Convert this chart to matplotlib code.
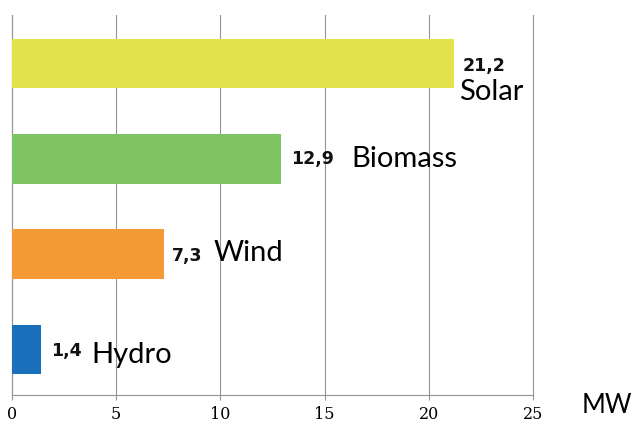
import matplotlib
matplotlib.use("Agg")
import matplotlib.pyplot as plt

# data (top to bottom in the picture)
sources = ["Solar", "Biomass", "Wind", "Hydro"]
capacity_mw = [21.2, 12.9, 7.3, 1.4]
value_labels = ["21,2", "12,9", "7,3", "1,4"]
bar_colors = ["#e3e34b", "#7fc463", "#f39a35", "#1a6fba"]
x_ticks = [0, 5, 10, 15, 20, 25]

# label offsets in pixels from the bar end (value label, name label)
val_off = [(9, -7.5), (10, -5), (8, -7), (10, -6.5)]
name_off = [(5, -36.5), (71, -8), (49, -7), (50, -13.5)]

DPI = 100
fig = plt.figure(figsize=(6.34, 4.23), dpi=DPI)
ax = fig.add_axes([12 / 634, 1 - 395 / 423, (533 - 12) / 634, (395 - 15) / 423])

n = len(sources)
ypos = [n - 1 - i for i in range(n)]
ax.barh(ypos, capacity_mw, height=0.52, color=bar_colors, zorder=3)

grid_col = "#959595"
ax.set_xlim(0, 25)
ax.set_ylim(-0.48, 3.51)
ax.set_xticks(x_ticks)
ax.set_xticklabels([str(t) for t in x_ticks], family="DejaVu Serif", fontsize=11.5)
ax.set_yticks([])
ax.xaxis.grid(True, color=grid_col, linewidth=0.8, zorder=0)
for gl in ax.get_xgridlines():
    gl.set_clip_on(False)
ax.tick_params(axis="x", length=3.6, width=0.8, color=grid_col, pad=4.5)
for s in ["top", "right"]:
    ax.spines[s].set_visible(False)
for s in ["left", "bottom"]:
    ax.spines[s].set_color(grid_col)
    ax.spines[s].set_linewidth(0.8)

k = 72.0 / DPI
for i in range(n):
    ax.annotate(value_labels[i], xy=(capacity_mw[i], ypos[i]),
                xytext=(val_off[i][0] * k, val_off[i][1] * k), textcoords="offset points",
                ha="left", va="baseline", fontsize=12.5, fontweight="bold",
                family="DejaVu Sans", color="#111111", zorder=4)
    ax.annotate(sources[i], xy=(capacity_mw[i], ypos[i]),
                xytext=(name_off[i][0] * k, name_off[i][1] * k), textcoords="offset points",
                ha="left", va="baseline", fontsize=21, family="Lato",
                color="#000000", zorder=4)

fig.text(582 / 634, 1 - 413 / 423, "MW", ha="left", va="baseline",
         fontsize=18.5, family="Lato", color="#000000")

fig.savefig("out.png", dpi=DPI)
